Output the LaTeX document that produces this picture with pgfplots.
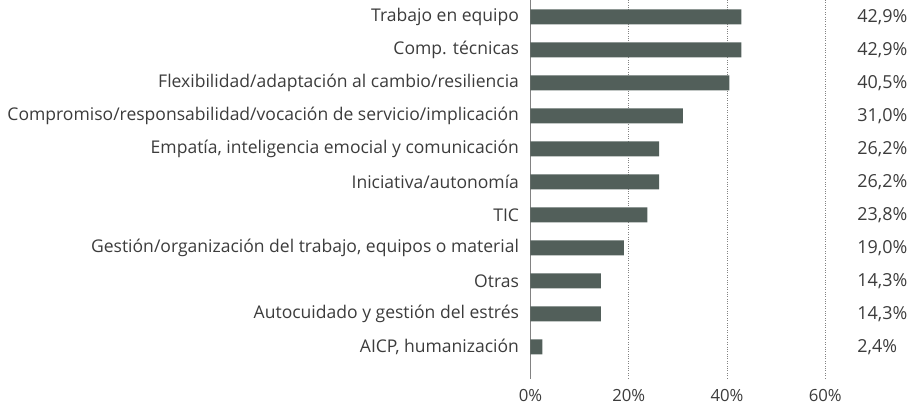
\documentclass[border=0pt]{standalone}
\usepackage{pgfplots}
\usepackage{pgfplotstable}
\pgfplotsset{compat=1.18}
\usepackage{fontspec}
\setmainfont{Open Sans}
\definecolor{barc}{RGB}{82,95,90}
\definecolor{txt}{RGB}{60,60,60}
\definecolor{axc}{RGB}{130,130,130}
\pgfplotstableread{
y v
10 42.9
9 42.9
8 40.5
7 31.0
6 26.2
5 26.2
4 23.8
3 19.0
2 14.3
1 14.3
0 2.4
}\data
\begin{document}
\begin{tikzpicture}
\begin{axis}[
  scale only axis, width=294.8bp, height=378bp,
  at={(0,0)}, anchor=south west,
  xmin=0, xmax=60, ymin=-0.94, ymax=10.515,
  clip=false,
  axis y line=left, axis x line=bottom,
  x axis line style={draw=none},
  y axis line style={draw=axc, line width=0.8pt, -},
  major tick length=0pt,
  xtick={0,20,40,60},
  xticklabels={0\%,20\%,40\%,60\%},
  xmajorgrids,
  major grid style={draw=axc, dotted, line width=0.6pt},
  ytick={0,...,10},
  yticklabels={{AICP, humanización},{Autocuidado y gestión del estrés},{Otras},{Gestión/organización del trabajo, equipos o material},{TIC},{Iniciativa/autonomía},{Empatía, inteligencia emocial y comunicación},{Compromiso/responsabilidad/vocación de servicio/implicación},{Flexibilidad/adaptación al cambio/resiliencia},{Comp. técnicas},{Trabajo en equipo}},
  yticklabel style={font=\fontsize{17.6}{20}\selectfont, text=txt, xshift=-8bp},
  xticklabel style={font=\fontsize{16.8}{20}\selectfont, text=txt, yshift=-8bp},
  /pgf/number format/assume math mode=true,
]
\addplot[xbar, bar width=15bp, fill=barc, draw=none] table[x=v, y=y] {\data};
\addplot[draw=none, mark=none, point meta=\thisrow{v},
  nodes near coords={\pgfmathprintnumber[fixed,fixed zerofill,precision=1,use comma]{\pgfplotspointmeta}\%},
  nodes near coords style={anchor=west, inner sep=0pt, font=\fontsize{18}{20}\selectfont, text=txt}]
  table[x expr=66.5, y=y] {\data};
\end{axis}
\pgfresetboundingbox
\path[use as bounding box] (-530.5bp,-34bp) rectangle (380.5bp,378bp);
\end{tikzpicture}
\end{document}
